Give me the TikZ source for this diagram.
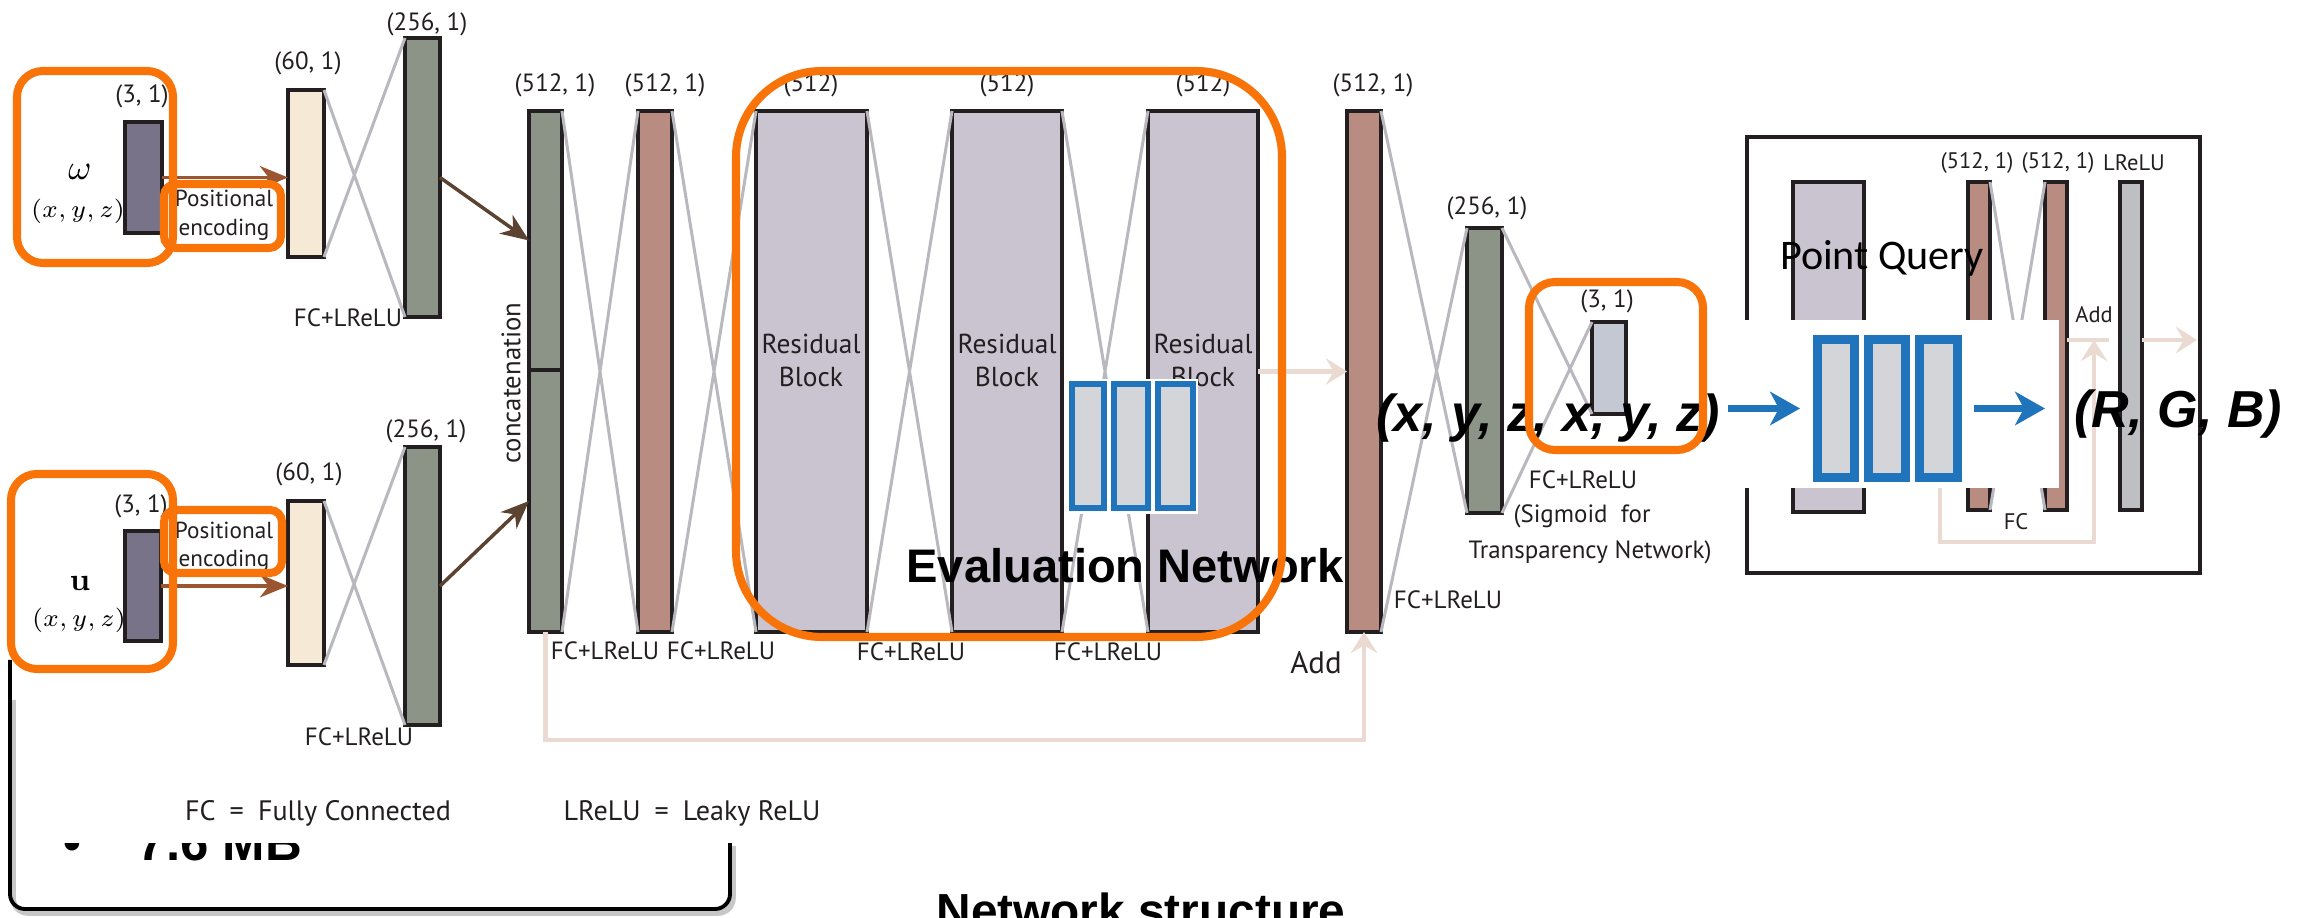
\documentclass[tikz,border=0pt]{standalone}
\usepackage[no-math]{fontspec}
\setmainfont{PT Sans}
\newfontfamily\arialf{Liberation Sans}
\newfontfamily\calf{Carlito}
\usetikzlibrary{arrows.meta,fit,calc}
\definecolor{ink}{HTML}{231F20}
\definecolor{orng}{HTML}{F87408}
\definecolor{inpfill}{HTML}{787388}
\definecolor{beige}{HTML}{F6EAD7}
\definecolor{sage}{HTML}{8C9488}
\definecolor{rose}{HTML}{B88C80}
\definecolor{lav}{HTML}{CAC4D1}
\definecolor{outfill}{HTML}{C3C8D3}
\definecolor{xgray}{HTML}{B8B8BE}
\definecolor{pale}{HTML}{EBDAD1}
\definecolor{arrA}{HTML}{9A5631}
\definecolor{arrB}{HTML}{5C4331}
\definecolor{blu}{HTML}{1F74BC}
\definecolor{blufill}{HTML}{D4D5D8}
\definecolor{qgray}{HTML}{BEBFC3}
\newcommand\fsz[2]{\fontsize{#1pt}{#2pt}\selectfont}
\tikzset{
  lyr/.style={draw=ink, line width=1pt, inner sep=0pt, outer sep=0pt},
  xl/.style={draw=xgray, line width=0.85pt},
  obox/.style={draw=orng, line width=2.3pt, rounded corners=#1, inner sep=0pt, outer sep=0pt},
  lbl/.style={font=\fsz{7.1}{8.5}, text=ink, inner sep=0pt},
  smalllbl/.style={font=\fsz{6.4}{7.7}, text=ink, inner sep=0pt},
  petxt/.style={font=\fsz{6.6}{8.3}, text=ink, inner sep=0pt, align=center},
  rbtxt/.style={font=\fsz{7.8}{9.4}, text=ink, inner sep=0pt, align=center},
  paleln/.style={draw=pale, line width=1.2pt},
  paletip/.style={-{Stealth[length=6pt,width=7.5pt,inset=2.2pt]}},
  brA/.style={draw=arrA, line width=1pt, -{Stealth[length=8pt,width=6.5pt,inset=2.5pt]}},
  brB/.style={draw=arrB, line width=1pt, -{Stealth[length=8pt,width=6.5pt,inset=2.5pt]}},
  bbox/.style={draw=blu, fill=blufill, line width=#1, inner sep=0pt, outer sep=0pt},
  barr/.style={draw=blu, line width=1.8pt, -{Stealth[length=8.5pt,width=9.5pt,inset=2.5pt]}},
  bigtxt/.style={font=\arialf\bfseries\fsz{13.4}{16}, inner sep=0pt},
  bigital/.style={font=\arialf\bfseries\itshape\fsz{14.8}{17}, inner sep=0pt},
}
\begin{document}
\begin{tikzpicture}[x=0.1mm,y=-0.1mm]
\clip (0,0) rectangle (2313,918);
\fill[white] (0,0) rectangle (2313,918);

% remnant of slide frame (bottom left)
\draw[black!22, line width=1.6pt, rounded corners=1.5mm] (13,700) -- (13,913) -- (733,913) -- (733,846);
\draw[black, line width=1.1pt, rounded corners=1.5mm] (10,660) -- (10,909) -- (730,909) -- (730,843);
\begin{scope}
\clip (0,843) rectangle (760,918);
\node[font=\arialf\bfseries\fsz{14.5}{17}, inner sep=0pt, anchor=base west] (mb) at (137,860) {7.6 MB};
\node[font=\arialf\bfseries\fsz{14.5}{17}, inner sep=0pt, anchor=base] (bul) at (72,860) {•};
\end{scope}
\node[font=\arialf\bfseries\fsz{13.6}{16}, inner sep=0pt, anchor=base] (ns) at (1141,927) {Network structure};

% legend
\node[lbl, font=\fsz{8}{9.6}] (lg1) at (318,813) {FC\enspace=\enspace Fully Connected};
\node[lbl, font=\fsz{8}{9.6}] (lg2) at (692,813) {LReLU\enspace=\enspace Leaky ReLU};

% layers
\node[lyr, fill=inpfill, fit={(125,122)(162,233)}] (in1) {};
\node[lyr, fill=beige, fit={(288,90)(324,257)}] (pe1) {};
\node[lyr, fill=sage, fit={(405,38)(440,317)}] (g1) {};
\node[lyr, fill=inpfill, fit={(125,531)(161,641)}] (in2) {};
\node[lyr, fill=beige, fit={(288,501)(324,665)}] (pe2) {};
\node[lyr, fill=sage, fit={(405,447)(440,725)}] (g2) {};
\node[lyr, fill=sage, fit={(529,111)(562,370)}] (ca) {};
\node[lyr, fill=sage, fit={(529,370)(562,632)}] (cb) {};
\node[lyr, fill=rose, fit={(638,111)(672,632)}] (b1) {};
\node[lyr, fill=lav, fit={(756,111)(867,632)}] (rb1) {};
\node[lyr, fill=lav, fit={(952,111)(1062,632)}] (rb2) {};
\node[lyr, fill=lav, fit={(1148,111)(1258,632)}] (rb3) {};
\node[lyr, fill=rose, fit={(1347,111)(1381,632)}] (b2) {};
\node[lyr, fill=sage, fit={(1467,228)(1502,513)}] (g3) {};
\node[lyr, fill=outfill, fit={(1592,322)(1626,414)}] (o3) {};

% point query panel
\node[lyr, line width=1.1pt, fit={(1747,137)(2200,573)}] (pq) {};
\node[lyr, fill=lav, fit={(1793,182)(1864,512)}] (ql) {};
\node[lyr, fill=rose, fit={(1968,182)(1990,510)}] (qb1) {};
\node[lyr, fill=rose, fit={(2045,182)(2067,510)}] (qb2) {};
\node[lyr, fill=qgray, fit={(2120,182)(2142,510)}] (qg) {};

% fully connected crossings
\draw[xl] (pe1.north east) -- (g1.south west) (pe1.south east) -- (g1.north west);
\draw[xl] (pe2.north east) -- (g2.south west) (pe2.south east) -- (g2.north west);
\draw[xl] (ca.north east) -- (b1.south west) (cb.south east) -- (b1.north west);
\draw[xl] (b1.north east) -- (rb1.south west) (b1.south east) -- (rb1.north west);
\draw[xl] (rb1.north east) -- (rb2.south west) (rb1.south east) -- (rb2.north west);
\draw[xl] (rb2.north east) -- (rb3.south west) (rb2.south east) -- (rb3.north west);
\draw[xl] (b2.north east) -- (g3.south west) (b2.south east) -- (g3.north west);
\draw[xl] (g3.north east) -- (o3.south west) (g3.south east) -- (o3.north west);
\draw[xl] (qb1.north east) -- (qb2.south west) (qb1.south east) -- (qb2.north west);

% arrows
\draw[brA] (in1.east) -- (in1.east -| pe1.west);
\draw[brA] (in2.east) -- (in2.east -| pe2.west);
\draw[brB] (g1.east) -- (ca.west);
\draw[brB] (g2.east) -- (cb.west);
\draw[paleln, paletip] (cb.south) -- ++(0,108) -| (b2.south);
\draw[paleln, paletip] (rb3.east) -- (b2.west);

% point query skip connection
\coordinate (addj) at (2094,340);
\coordinate (skip0) at (1940,470);
\coordinate (qout) at (2197,340);
\draw[paleln, paletip] (skip0) |- (2094,542) -- (addj);
\draw[paleln] (qb2.east |- addj) -- ++(42,0);
\draw[paleln, paletip] (qg.east |- addj) -- (qout);

% labels
\node[lbl] (l31a) at (142,96) {(3, 1)};
\node[lbl] (l601a) at (308,63) {(60, 1)};
\node[lbl] (l256a) at (427,24) {(256, 1)};
\node[lbl] (fca) at (348,318) {FC+LReLU};
\node[lbl] (l31b) at (141,506) {(3, 1)};
\node[lbl] (l601b) at (309,474) {(60, 1)};
\node[lbl] (l256b) at (426,431) {(256, 1)};
\node[lbl] (fcb) at (359,737) {FC+LReLU};
\node[lbl] (lc) at (555,85) {(512, 1)};
\node[lbl] (lb1) at (665,85) {(512, 1)};
\node[lbl] (lr1) at (811,85) {(512)};
\node[lbl] (lr2) at (1007,85) {(512)};
\node[lbl] (lr3) at (1203,85) {(512)};
\node[lbl] (lb2) at (1373,85) {(512, 1)};
\node[lbl] (lg3) at (1487,208) {(256, 1)};
\node[lbl] (lo3) at (1607,301) {(3, 1)};
\node[lbl] (fc1) at (605,651) {FC+LReLU};
\node[lbl] (fc2) at (721,651) {FC+LReLU};
\node[lbl] (fc3) at (911,652) {FC+LReLU};
\node[lbl] (fc4) at (1108,652) {FC+LReLU};
\node[lbl] (fc5) at (1448,600) {FC+LReLU};
\node[lbl] (fc6) at (1583,480) {FC+LReLU};
\node[lbl] (sig1) at (1582,516) {(Sigmoid~ for};
\node[lbl] (sig2) at (1590,552) {Transparency Network)};
\node[lbl, font=\fsz{8.8}{10}] (addl) at (1316,663) {Add};
\node[lbl, font=\fsz{7.6}{9}, rotate=90] (cat) at (511,383) {concatenation};
\node[rbtxt] (rt1) at (811,360) {Residual\\Block};
\node[rbtxt] (rt2) at (1007,360) {Residual\\Block};
\node[rbtxt] (rt3) at (1203,360) {Residual\\Block};
\node[petxt] (pet1) at (224,215) {Positional\\encoding};
\node[petxt, font=\fsz{6.6}{8}] (pet2) at (224,547) {Positional\\encoding};
\node[inner sep=0pt, font=\fsz{9.6}{11}] (om) at (80,172) {$\omega$};
\node[inner sep=0pt, font=\fsz{7.4}{9}] (xyz1) at (78,211) {$(x,y,z)$};
\node[inner sep=0pt, font=\fsz{9.2}{11}] (uu) at (80,583) {$\mathbf{u}$};
\node[inner sep=0pt, font=\fsz{7.4}{9}] (xyz2) at (79,620) {$(x,y,z)$};
\node[smalllbl] (q1) at (1977,163) {(512, 1)};
\node[smalllbl] (q2) at (2058,163) {(512, 1)};
\node[smalllbl] (q3) at (2134,163) {LReLU};
\node[smalllbl] (qadd) at (2094,315) {Add};
\node[smalllbl] (qfc) at (2016,522) {FC};
\node[font=\calf\fsz{12}{14}, anchor=base, inner sep=0pt] (pqt) at (1882,270) {Point Query};

% overlay: blue triple inside evaluation network
\fill[white] (1067,379) rectangle (1198,514);
\node[bbox=1.7pt, fit={(1072,384)(1104,508)}] (bt1) {};
\node[bbox=1.7pt, fit={(1114,384)(1148,508)}] (bt2) {};
\node[bbox=1.7pt, fit={(1158,384)(1193,508)}] (bt3) {};

% overlay in point query panel
\fill[white] (1740,320) rectangle (2059,488);
\node[bbox=2.5pt, fit={(1817.5,339.5)(1854.5,477.5)}] (bq1) {};
\node[bbox=2.5pt, fit={(1868.5,339.5)(1905.5,477.5)}] (bq2) {};
\node[bbox=2.5pt, fit={(1919.5,339.5)(1957.5,477.5)}] (bq3) {};

% big overlay texts
\node[bigtxt, anchor=base] (evtxt) at (1125,583) {Evaluation Network};
\node[bigital, anchor=base] (xyz) at (1548,432) {(x, y, z, x, y, z)};
\draw[barr, shorten <=0.8mm, shorten >=1.75mm] (xyz.east |- bq1.west) -- (bq1.west);
\draw[barr, shorten <=1.65mm] (bq3.east) -- (bq3.east -| qb2.west);
\node[bigital, anchor=base] (rgb) at (2178,428) {(R, G, B)};

% orange highlight boxes
\node[obox=2.6mm, fit={(17,71)(173,263)}] (ow) {};
\node[obox=1.2mm, fit={(164,184)(281,248)}] (ope1) {};
\node[obox=2.6mm, fit={(11,474)(173,669)}] (ou) {};
\node[obox=1.2mm, fit={(164,510)(282,573)}] (ope2) {};
\node[obox=8.6mm, fit={(736,71)(1282,637)}] (oeval) {};
\node[obox=2.6mm, fit={(1529,282)(1703,450)}] (oout) {};
\end{tikzpicture}
\end{document}
